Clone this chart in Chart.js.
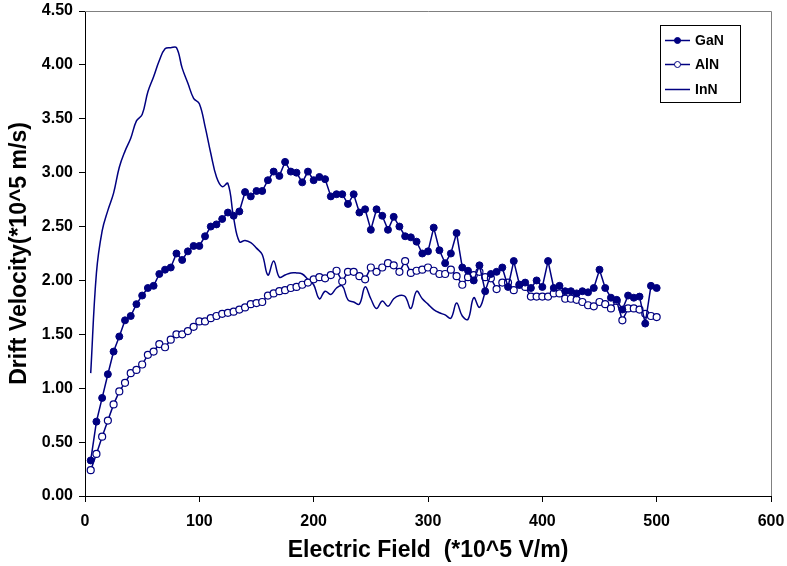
<!DOCTYPE html>
<html>
<head>
<meta charset="utf-8">
<title>Drift Velocity vs Electric Field</title>
<script src="https://cdn.jsdelivr.net/npm/chart.js@4.4.1/dist/chart.umd.min.js"></script>
<style>
  html, body { margin: 0; padding: 0; background: #fff; }
  #wrap { width: 787px; height: 566px; }
</style>
</head>
<body>
<div id="wrap"><canvas id="grafica" width="787" height="566"></canvas></div>
<script>
// Campo eléctrico (*10^5 V/m)
const electricField = [
  5, 10, 15, 20, 25, 30, 35, 40, 45, 50,
  55, 60, 65, 70, 75, 80, 85, 90, 95, 100,
  105, 110, 115, 120, 125, 130, 135, 140, 145, 150,
  155, 160, 165, 170, 175, 180, 185, 190, 195, 200,
  205, 210, 215, 220, 225, 230, 235, 240, 245, 250,
  255, 260, 265, 270, 275, 280, 285, 290, 295, 300,
  305, 310, 315, 320, 325, 330, 335, 340, 345, 350,
  355, 360, 365, 370, 375, 380, 385, 390, 395, 400,
  405, 410, 415, 420, 425, 430, 435, 440, 445, 450,
  455, 460, 465, 470, 475, 480, 485, 490, 495, 500
];

// Velocidad de deriva (*10^5 m/s)
const ganVelocity = [
  0.33, 0.69, 0.91, 1.13, 1.34, 1.48, 1.63, 1.67, 1.78, 1.86,
  1.93, 1.95, 2.06, 2.10, 2.12, 2.25, 2.19, 2.27, 2.32, 2.32,
  2.41, 2.50, 2.52, 2.57, 2.63, 2.60, 2.64, 2.82, 2.78, 2.83,
  2.83, 2.93, 3.01, 2.97, 3.10, 3.01, 3.00, 2.91, 3.01, 2.93,
  2.96, 2.94, 2.78, 2.80, 2.80, 2.71, 2.80, 2.63, 2.66, 2.47,
  2.66, 2.60, 2.47, 2.59, 2.50, 2.41, 2.40, 2.36, 2.25, 2.27,
  2.49, 2.28, 2.16, 2.25, 2.44, 2.12, 2.09, 2.00, 2.14, 1.90,
  2.06, 2.08, 2.12, 1.94, 2.18, 1.96, 1.98, 1.93, 2.00, 1.94,
  2.18, 1.93, 1.95, 1.90, 1.90, 1.88, 1.90, 1.89, 1.93, 2.10,
  1.93, 1.84, 1.82, 1.73, 1.86, 1.84, 1.85, 1.60, 1.95, 1.93
];

const alnVelocity = [
  0.24, 0.39, 0.55, 0.70, 0.85, 0.97, 1.05, 1.14, 1.17, 1.22,
  1.31, 1.34, 1.41, 1.38, 1.45, 1.50, 1.50, 1.53, 1.57, 1.62,
  1.62, 1.65, 1.67, 1.69, 1.70, 1.71, 1.73, 1.75, 1.78, 1.79,
  1.80, 1.86, 1.88, 1.90, 1.91, 1.93, 1.94, 1.96, 1.98, 2.01,
  2.03, 2.02, 2.05, 2.09, 1.99, 2.08, 2.08, 2.04, 2.01, 2.12,
  2.08, 2.12, 2.16, 2.14, 2.08, 2.18, 2.07, 2.09, 2.10, 2.12,
  2.09, 2.06, 2.06, 2.10, 2.04, 1.96, 2.03, 2.05, 2.08, 2.03,
  2.02, 1.92, 1.98, 1.98, 1.91, 1.96, 1.94, 1.85, 1.85, 1.85,
  1.85, 1.88, 1.88, 1.83, 1.83, 1.82, 1.80, 1.77, 1.76, 1.80,
  1.78, 1.74, 1.81, 1.63, 1.74, 1.74, 1.73, 1.69, 1.67, 1.66
];

// InN solo llega hasta 350
const innVelocity = [
  1.14, 2.07, 2.46, 2.65, 2.81, 3.05, 3.20, 3.32, 3.48, 3.54,
  3.75, 3.89, 4.04, 4.15, 4.16, 4.16, 3.97, 3.83, 3.69, 3.64,
  3.43, 3.18, 2.96, 2.87, 2.90, 2.58, 2.36, 2.37, 2.35, 2.30,
  2.24, 2.05, 2.18, 2.03, 2.05, 2.07, 2.07, 2.06, 2.01, 1.96,
  1.83, 1.90, 1.87, 1.93, 1.95, 1.82, 1.80, 1.78, 1.94, 1.83,
  1.74, 1.81, 1.76, 1.83, 1.86, 1.85, 1.74, 1.90, 1.83, 1.78,
  1.73, 1.70, 1.68, 1.65, 1.79, 1.67, 1.64, 1.84, 1.75, 1.89
];

const xTickValues = [0, 100, 200, 300, 400, 500, 600];
const yTickValues = [0, 0.5, 1, 1.5, 2, 2.5, 3, 3.5, 4, 4.5];

const navy = '#000080';
const fuente = 'Arial, "Liberation Sans", Helvetica, sans-serif';

function toPoints(xs, ys) {
  return ys.map((y, i) => ({ x: xs[i], y: y }));
}

// Borde gris del área de trazado (arriba y derecha)
const plotBorder = {
  id: 'plotBorder',
  beforeDatasetsDraw(chart) {
    const { ctx, chartArea: a } = chart;
    ctx.save();
    ctx.strokeStyle = '#808080';
    ctx.lineWidth = 1;
    ctx.beginPath();
    ctx.moveTo(a.left, a.top + 0.5);
    ctx.lineTo(a.right + 0.5, a.top + 0.5);
    ctx.lineTo(a.right + 0.5, a.bottom);
    ctx.stroke();
    ctx.restore();
  }
};

// Leyenda dentro del gráfico, como en Excel
const boxLegend = {
  id: 'boxLegend',
  afterDraw(chart) {
    const ctx = chart.ctx;
    const x0 = 660, y0 = 25, w = 80, h = 77;
    ctx.save();
    ctx.fillStyle = '#fff';
    ctx.fillRect(x0, y0, w, h);
    ctx.strokeStyle = '#000';
    ctx.lineWidth = 1;
    ctx.strokeRect(x0 + 0.5, y0 + 0.5, w, h);
    const items = chart.data.datasets;
    const rows = [40.5, 64.5, 89.5];
    ctx.font = 'bold 14px ' + fuente;
    ctx.textBaseline = 'middle';
    items.forEach((ds, i) => {
      const y = rows[i];
      ctx.strokeStyle = navy;
      ctx.lineWidth = 1.5;
      ctx.beginPath();
      ctx.moveTo(665, y);
      ctx.lineTo(690, y);
      ctx.stroke();
      if (ds.pointRadius > 0) {
        ctx.beginPath();
        ctx.arc(677.5, y, 3, 0, Math.PI * 2);
        ctx.fillStyle = ds.pointBackgroundColor;
        ctx.fill();
        ctx.lineWidth = 1;
        ctx.stroke();
      }
      ctx.fillStyle = '#000';
      ctx.fillText(ds.label, 695, y + 1);
    });
    ctx.restore();
  }
};

const ctx = document.getElementById('grafica').getContext('2d');
window.myChart = new Chart(ctx, {
  type: 'scatter',
  data: {
    datasets: [
      {
        label: 'GaN',
        data: toPoints(electricField, ganVelocity),
        showLine: true,
        borderColor: navy,
        borderWidth: 1.5,
        pointRadius: 3.5,
        pointBackgroundColor: navy,
        pointBorderColor: navy,
        pointBorderWidth: 1,
        tension: 0
      },
      {
        label: 'AlN',
        data: toPoints(electricField, alnVelocity),
        showLine: true,
        borderColor: navy,
        borderWidth: 1.5,
        pointRadius: 3.5,
        pointBackgroundColor: '#ffffff',
        pointBorderColor: navy,
        pointBorderWidth: 1.2,
        tension: 0
      },
      {
        label: 'InN',
        data: toPoints(electricField, innVelocity),
        showLine: true,
        borderColor: navy,
        borderWidth: 1.5,
        pointRadius: 0,
        pointBackgroundColor: navy,
        tension: 0.4
      }
    ]
  },
  options: {
    responsive: false,
    animation: false,
    layout: { padding: { top: 11, right: 16, left: 0, bottom: 0 } },
    plugins: {
      legend: { display: false },
      tooltip: { enabled: false }
    },
    scales: {
      x: {
        type: 'linear',
        position: 'bottom',
        min: 0,
        max: 600,
        afterFit: s => { s.height = 70; s.paddingLeft = 0; s.paddingRight = 0; },
        afterBuildTicks: s => { s.ticks = xTickValues.map(v => ({ value: v })); },
        ticks: {
          color: '#000',
          font: { family: fuente, size: 16, weight: 'bold' },
          padding: 10,
          maxRotation: 0
        },
        grid: { display: true, drawOnChartArea: false, drawTicks: true, tickLength: 6, color: '#000' },
        border: { display: true, color: '#000', width: 1 },
        title: {
          display: true,
          text: 'Electric Field  (*10^5 V/m)',
          color: '#000',
          font: { family: fuente, size: 23, weight: 'bold' },
          padding: { top: 0, bottom: 2 }
        }
      },
      y: {
        type: 'linear',
        min: 0,
        max: 4.5,
        afterFit: s => { s.width = 85; s.paddingTop = 0; s.paddingBottom = 0; },
        afterBuildTicks: s => { s.ticks = yTickValues.map(v => ({ value: v })); },
        ticks: {
          color: '#000',
          font: { family: fuente, size: 16, weight: 'bold' },
          padding: 6,
          callback: v => v.toFixed(2)
        },
        grid: { display: true, drawOnChartArea: false, drawTicks: true, tickLength: 6, color: '#000' },
        border: { display: true, color: '#000', width: 1 },
        title: {
          display: true,
          text: 'Drift Velocity(*10^5 m/s)',
          color: '#000',
          font: { family: fuente, size: 23, weight: 'bold' },
          padding: { top: 6, bottom: 0 }
        }
      }
    }
  },
  plugins: [plotBorder, boxLegend]
});
</script>
</body>
</html>
